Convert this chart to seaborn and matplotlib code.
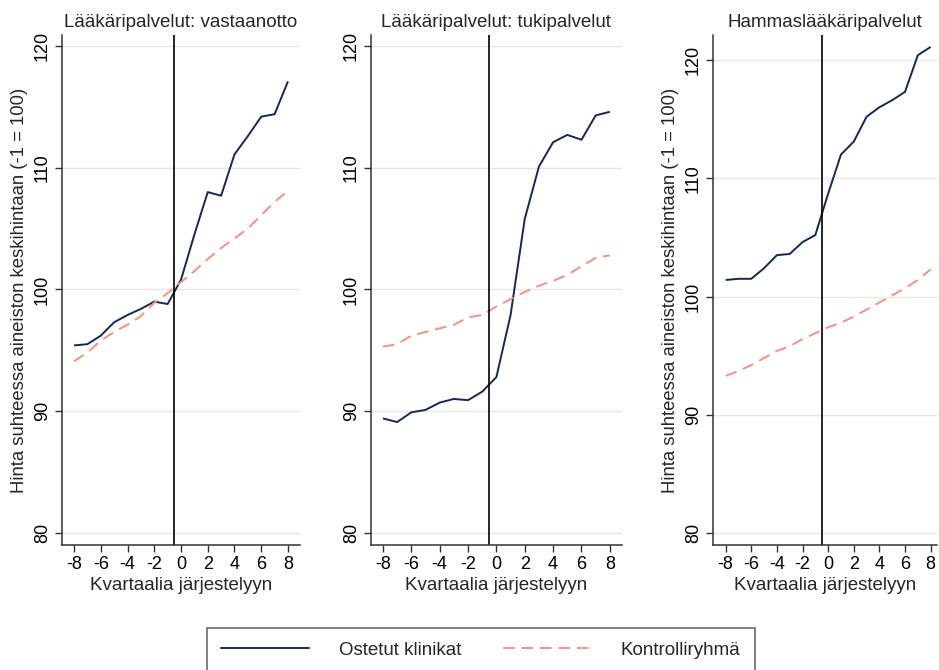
import matplotlib
matplotlib.use("Agg")
import matplotlib.pyplot as plt
import pandas as pd
import seaborn as sns

# Quarters relative to the arrangement
quarters = list(range(-8, 9))

# Lääkäripalvelut: vastaanotto
vast_ostetut = [95.4, 95.5, 96.2, 97.3, 97.9, 98.4, 99.0, 98.8, 100.8,
                104.5, 108.0, 107.7, 111.1, 112.6, 114.2, 114.4, 117.1]
vast_kontrolli = [94.1, 94.8, 95.8, 96.5, 97.1, 97.8, 98.9, 99.7, 100.6,
                  101.5, 102.5, 103.4, 104.2, 105.0, 106.1, 107.2, 108.1]

# Lääkäripalvelut: tukipalvelut
tuki_ostetut = [89.4, 89.1, 89.9, 90.1, 90.7, 91.0, 90.9, 91.6, 92.8,
                97.9, 105.8, 110.1, 112.1, 112.7, 112.3, 114.3, 114.6]
tuki_kontrolli = [95.3, 95.5, 96.2, 96.5, 96.8, 97.1, 97.7, 97.9, 98.6,
                  99.2, 99.8, 100.3, 100.7, 101.2, 101.9, 102.6, 102.8]

# Hammaslääkäripalvelut
hammas_ostetut = [101.4, 101.5, 101.5, 102.4, 103.5, 103.6, 104.6, 105.2, 108.7,
                  112.0, 113.1, 115.2, 116.0, 116.6, 117.3, 120.4, 121.1]
hammas_kontrolli = [93.3, 93.7, 94.2, 94.8, 95.4, 95.8, 96.4, 96.9, 97.4,
                    97.8, 98.3, 98.9, 99.5, 100.1, 100.7, 101.4, 102.3]

titles = ["Lääkäripalvelut: vastaanotto", "Lääkäripalvelut: tukipalvelut",
          "Hammaslääkäripalvelut"]
groups = ["Ostetut klinikat", "Kontrolliryhmä"]
y_ticks = [80, 90, 100, 110, 120]
x_ticks = [-8, -6, -4, -2, 0, 2, 4, 6, 8]

panels = [(vast_ostetut, vast_kontrolli), (tuki_ostetut, tuki_kontrolli),
          (hammas_ostetut, hammas_kontrolli)]

sns.set_style("ticks")
plt.rcParams["font.family"] = ["Liberation Sans", "DejaVu Sans"]
plt.rcParams["axes.unicode_minus"] = False

navy = "#13285a"
salmon = "#f98f7e"

fig = plt.figure(figsize=(9.39, 6.70), dpi=100)
# [left, bottom, width, height] for each panel
rects = [[0.066, 0.1866, 0.2535, 0.761],
         [0.395, 0.1866, 0.2673, 0.761],
         [0.7593, 0.1866, 0.2386, 0.761]]
xlims = [(-8.9, 8.9), (-8.85, 8.85), (-8.99, 8.5)]
ylims = [(79.0, 120.9), (79.0, 120.9), (79.0, 122.1)]

for i, (ost, kon) in enumerate(panels):
    ax = fig.add_axes(rects[i])
    df = pd.DataFrame({
        "q": quarters * 2,
        "value": ost + kon,
        "group": [groups[0]] * len(quarters) + [groups[1]] * len(quarters),
    })
    sns.lineplot(data=df, x="q", y="value", hue="group", style="group",
                 palette=[navy, salmon], dashes=[(1, 0), (6, 3.5)],
                 linewidth=1.4, ax=ax, legend=False)
    ax.axvline(-0.5, color="black", lw=1.2)
    ax.set_xlim(*xlims[i])
    ax.set_ylim(*ylims[i])
    ax.set_yticks(y_ticks)
    ax.set_xticks(x_ticks)
    ax.set_yticklabels([str(v) for v in y_ticks], rotation=90, va="center")
    ax.grid(axis="y", color="#e6e6e6", lw=1)
    ax.set_axisbelow(True)
    for s in ["top", "right"]:
        ax.spines[s].set_visible(False)
    for s in ["left", "bottom"]:
        ax.spines[s].set_color("#333333")
        ax.spines[s].set_linewidth(1.1)
    ax.tick_params(axis="both", direction="out", length=5, width=1,
                   color="#333333", labelcolor="black", labelsize=13, pad=3)
    ax.set_title(titles[i], fontsize=13.5, pad=6)
    ax.set_xlabel("Kvartaalia järjestelyyn", fontsize=13.5, labelpad=3)
    if i == 1:
        ax.set_ylabel("")
    else:
        ax.set_ylabel("Hinta suhteessa aineiston keskihintaan (-1 = 100)",
                      fontsize=13.3, labelpad=4)

handles = [plt.Line2D([], [], color=navy, lw=1.4),
           plt.Line2D([], [], color=salmon, lw=1.4, dashes=(6, 3.5))]
leg = fig.legend(handles, groups, loc="upper center", bbox_to_anchor=(0.512, 0.063),
                 ncol=2, frameon=True, fancybox=False, fontsize=13.5,
                 handlelength=4.7, columnspacing=2.2, handletextpad=1.6,
                 borderpad=0.75, borderaxespad=0)
leg.get_frame().set_edgecolor("#333333")
leg.get_frame().set_linewidth(1.1)

fig.savefig("out.png", dpi=100)
